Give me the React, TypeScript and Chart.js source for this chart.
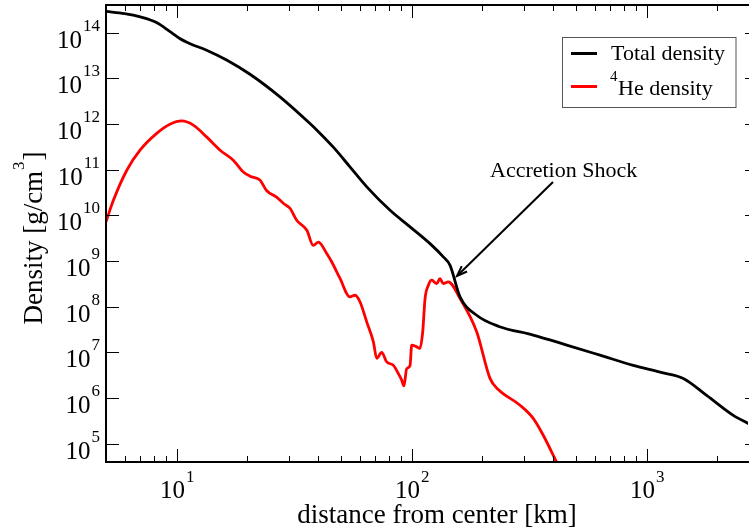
import React, { useEffect, useRef } from 'react';
import { Chart, registerables } from 'chart.js';

Chart.register(...registerables);

// Total density (km, g/cm^3)
const totalX = [5, 6.0, 7.0, 8.2, 9.4, 10.3, 11.4, 13.4, 16.3, 20.5, 27.5, 36.9, 39.5, 46.4, 54.6, 64.4, 80.9, 98.4, 119.7, 136.3, 145.5, 160.6, 189, 235, 329, 457, 633, 877, 1140, 1433, 1800, 2337, 2720];
const totalY = [2.9e14, 2.6e14, 2.2e14, 1.66e14, 1.03e14, 7.4e13, 5.7e13, 4.1e13, 2.5e13, 1.22e13, 3.9e12, 1.02e12, 7.3e11, 3.1e11, 1.15e11, 4.2e10, 1.29e10, 5.6e9, 2.4e9, 1.23e9, 8.1e8, 1.64e8, 6.5e7, 3.7e7, 2.4e7, 1.45e7, 8.7e6, 5.2e6, 3.7e6, 2.7e6, 1.15e6, 4.2e5, 2.75e5];

// 4He density (km, g/cm^3)
const heX = [5, 5.37, 6.13, 6.98, 8.22, 9.36, 10.5, 11.8, 13.4, 15.3, 17.4, 19.2, 20.5, 22.6, 24.1, 26.6, 28.5, 30.4, 32.4, 35.8, 38.1, 40.1, 43.5, 45.7, 49.6, 54.6, 57.4, 60.3, 64.4, 68.7, 71.0, 74.5, 78.3, 83.6, 87.7, 90.6, 92.7, 95.2, 98.4, 100, 105, 108.4, 111.4, 114, 117.8, 121.7, 127.8, 131.9, 136.3, 143.1, 160.6, 189.2, 215.4, 233.7, 289, 329, 363, 414];
const heY = [7.2e9, 2.1e10, 9.7e10, 2.66e11, 6.2e11, 9.8e11, 1.16e12, 9.3e11, 5.2e11, 2.66e11, 1.61e11, 8.9e10, 7.2e10, 5.9e10, 3.5e10, 2.5e10, 1.81e10, 1.41e10, 7.8e9, 4.7e9, 2.2e9, 2.6e9, 1.46e9, 9.5e8, 4.1e8, 1.64e8, 1.78e8, 1.27e8, 4.6e7, 1.7e7, 7.4e6, 1.0e7, 6.2e6, 5.2e6, 3.45e6, 2.5e6, 1.85e6, 4.4e6, 5.2e6, 1.44e7, 1.32e7, 1.22e7, 2.8e7, 1.51e8, 2.95e8, 3.8e8, 3.2e8, 4.1e8, 3.2e8, 3.5e8, 1.51e8, 2.8e7, 2.7e6, 1.54e6, 7.0e5, 3.6e5, 1.54e5, 3.95e4];

const xLabelExponents = [1, 2, 3];
const yLabelExponents = [5, 6, 7, 8, 9, 10, 11, 12, 13, 14];
const X_MIN = 5;
const X_MAX = 2700;
const Y_MIN = 4e4;
const Y_MAX = 4e14;

const seriesNames = ['Total density', '4He density'];
const xTitle = 'distance from center [km]';
const yTitleMain = 'Density [g/cm';
const yTitleSup = '3';
const yTitleEnd = ']';
const annotationText = 'Accretion Shock';

const FONT = '"Liberation Serif", "Times New Roman", Times, serif';

const decorPlugin = {
  id: 'decor',
  afterDraw(chart: any) {
    const { ctx, chartArea: a, scales } = chart;
    const xs = scales.x;
    const ys = scales.y;
    ctx.save();
    ctx.strokeStyle = '#000';
    ctx.fillStyle = '#000';

    // frame
    ctx.lineWidth = 2;
    ctx.beginPath();
    ctx.moveTo(a.right + 2, a.top);
    ctx.lineTo(a.left, a.top);
    ctx.lineTo(a.left, a.bottom);
    ctx.lineTo(a.right + 2, a.bottom);
    ctx.stroke();

    // x ticks (top + bottom)
    ctx.lineWidth = 1;
    ctx.beginPath();
    for (let e = 0; e <= 3; e++) {
      for (let m = 1; m <= 9; m++) {
        const v = m * Math.pow(10, e);
        if (v < X_MIN || v > X_MAX) continue;
        const px = Math.round(xs.getPixelForValue(v)) + 0.5;
        const len = m === 1 ? 13 : 6;
        ctx.moveTo(px, a.bottom);
        ctx.lineTo(px, a.bottom - len);
        ctx.moveTo(px, a.top);
        ctx.lineTo(px, a.top + len);
      }
    }
    // y ticks (left + right)
    for (const e of yLabelExponents) {
      const py = Math.round(ys.getPixelForValue(Math.pow(10, e))) + 0.5;
      ctx.moveTo(a.left, py);
      ctx.lineTo(a.left + 13, py);
      ctx.moveTo(a.right + 2, py);
      ctx.lineTo(a.right - 3, py);
    }
    ctx.stroke();

    // x tick labels
    const baseFont = '25px ' + FONT;
    const supFont = '17px ' + FONT;
    ctx.textBaseline = 'alphabetic';
    ctx.textAlign = 'left';
    for (const e of xLabelExponents) {
      const px = xs.getPixelForValue(Math.pow(10, e));
      ctx.font = baseFont;
      const w10 = ctx.measureText('10').width;
      ctx.font = supFont;
      const ws = ctx.measureText(String(e)).width;
      const start = px - (w10 + ws) / 2;
      ctx.font = baseFont;
      ctx.fillText('10', start, a.bottom + 36);
      ctx.font = supFont;
      ctx.fillText(String(e), start + w10 + 1, a.bottom + 20);
    }
    // y tick labels
    for (const e of yLabelExponents) {
      const py = ys.getPixelForValue(Math.pow(10, e));
      ctx.font = supFont;
      const ws = ctx.measureText(String(e)).width;
      ctx.textAlign = 'right';
      ctx.fillText(String(e), 100, py - 2);
      ctx.font = baseFont;
      ctx.fillText('10', 100 - ws - 1, py + 15);
    }

    // x title
    ctx.font = '27px ' + FONT;
    ctx.textAlign = 'center';
    ctx.fillText(xTitle, 437, 523);

    // y title (rotated, with superscript)
    ctx.save();
    ctx.translate(42, 238);
    ctx.rotate(-Math.PI / 2);
    ctx.textAlign = 'left';
    ctx.font = '27px ' + FONT;
    const wm = ctx.measureText(yTitleMain).width;
    const we = ctx.measureText(yTitleEnd).width;
    ctx.font = '17px ' + FONT;
    const wsup = ctx.measureText(yTitleSup).width;
    let tx = -(wm + wsup + we + 2) / 2;
    ctx.font = '27px ' + FONT;
    ctx.fillText(yTitleMain, tx, 0);
    tx += wm + 1;
    ctx.font = '17px ' + FONT;
    ctx.fillText(yTitleSup, tx, -18);
    tx += wsup + 1;
    ctx.font = '27px ' + FONT;
    ctx.fillText(yTitleEnd, tx, 0);
    ctx.restore();

    // legend
    ctx.lineWidth = 1;
    ctx.strokeStyle = '#555';
    ctx.strokeRect(562.5, 37.5, 173.5, 70);
    ctx.lineWidth = 3;
    ctx.strokeStyle = '#000';
    ctx.beginPath();
    ctx.moveTo(571, 53.5);
    ctx.lineTo(597, 53.5);
    ctx.stroke();
    ctx.strokeStyle = '#ff0000';
    ctx.beginPath();
    ctx.moveTo(571, 86.5);
    ctx.lineTo(597, 86.5);
    ctx.stroke();
    ctx.textAlign = 'left';
    ctx.fillStyle = '#000';
    ctx.font = '22px ' + FONT;
    ctx.fillText(seriesNames[0], 611, 60);
    ctx.font = '15px ' + FONT;
    ctx.fillText(seriesNames[1].slice(0, 1), 610, 81);
    const w4 = ctx.measureText(seriesNames[1].slice(0, 1)).width;
    ctx.font = '22px ' + FONT;
    ctx.fillText(seriesNames[1].slice(1), 610 + w4 + 0.5, 95);

    // annotation
    ctx.font = '22px ' + FONT;
    ctx.fillText(annotationText, 490, 177);
    ctx.strokeStyle = '#000';
    ctx.lineWidth = 2;
    const x0 = 553, y0 = 182, x1 = 457, y1 = 276;
    ctx.beginPath();
    ctx.moveTo(x0, y0);
    ctx.lineTo(x1, y1);
    ctx.stroke();
    const ang = Math.atan2(y1 - y0, x1 - x0);
    const hl = 11, hw = 0.35;
    ctx.beginPath();
    ctx.moveTo(x1 - hl * Math.cos(ang - hw), y1 - hl * Math.sin(ang - hw));
    ctx.lineTo(x1, y1);
    ctx.lineTo(x1 - hl * Math.cos(ang + hw), y1 - hl * Math.sin(ang + hw));
    ctx.stroke();

    ctx.restore();
  },
};

export default function App() {
  const canvasRef = useRef<HTMLCanvasElement | null>(null);

  useEffect(() => {
    document.body.style.margin = '0';
    const canvas = canvasRef.current;
    if (!canvas) return;
    const totalPts = totalX.map((x, i) => ({ x, y: totalY[i] }));
    const hePts = heX.map((x, i) => ({ x, y: heY[i] }));
    const chart = new Chart(canvas, {
      type: 'line',
      data: {
        datasets: [
          {
            label: seriesNames[0],
            data: totalPts,
            borderColor: '#000000',
            borderWidth: 2.8,
            pointRadius: 0,
            fill: false,
            cubicInterpolationMode: 'monotone',
          },
          {
            label: seriesNames[1],
            data: hePts,
            borderColor: '#ff0000',
            borderWidth: 2.8,
            pointRadius: 0,
            fill: false,
            cubicInterpolationMode: 'monotone',
          },
        ],
      },
      options: {
        animation: false,
        responsive: false,
        devicePixelRatio: 1,
        layout: { padding: { top: 5, right: 1, left: 0, bottom: 0 } },
        scales: {
          x: {
            type: 'logarithmic',
            min: X_MIN,
            max: X_MAX,
            ticks: { display: false },
            grid: { display: false },
            border: { display: false },
            afterFit: (s: any) => {
              s.height = 67;
            },
          },
          y: {
            type: 'logarithmic',
            min: Y_MIN,
            max: Y_MAX,
            ticks: { display: false },
            grid: { display: false },
            border: { display: false },
            afterFit: (s: any) => {
              s.width = 106;
            },
          },
        },
        plugins: {
          legend: { display: false },
          tooltip: { enabled: false },
        },
      } as any,
      plugins: [decorPlugin],
    });
    return () => chart.destroy();
  }, []);

  return (
    <div style={{ width: 749, height: 529, background: '#fff' }}>
      <canvas ref={canvasRef} width={749} height={529} style={{ display: 'block', width: 749, height: 529 }} />
    </div>
  );
}
